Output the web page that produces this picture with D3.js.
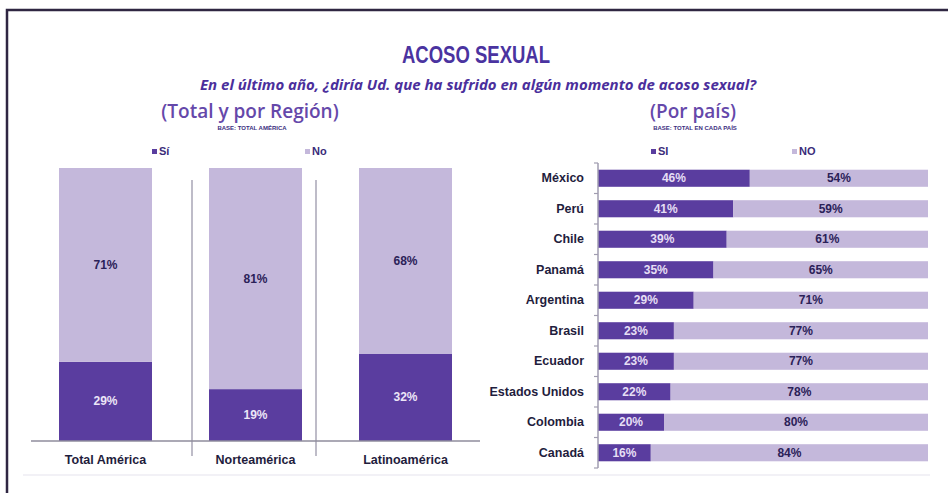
<!DOCTYPE html>
<html>
<head>
<meta charset="utf-8">
<script src="https://cdn.jsdelivr.net/npm/d3@7"></script>
<style>
  body { margin: 0; background: #ffffff; }
  svg { display: block; }
</style>
</head>
<body>
<div id="chart"></div>
<script>
// Data
const regions = ['Total América', 'Norteamérica', 'Latinoamérica'];
const regionSi = [29, 19, 32];
const regionNo = [71, 81, 68];

const countries = ['México', 'Perú', 'Chile', 'Panamá', 'Argentina', 'Brasil', 'Ecuador', 'Estados Unidos', 'Colombia', 'Canadá'];
const countrySi = [46, 41, 39, 35, 29, 23, 23, 22, 20, 16];
const countryNo = [54, 59, 61, 65, 71, 77, 77, 78, 80, 84];

const colorSi = '#5a3d9f';
const colorNo = '#c4b8db';
const narrow = '"Liberation Sans", Arial, sans-serif';

const W = 948, H = 493;
const svg = d3.select('#chart').append('svg')
  .attr('width', W)
  .attr('height', H);

svg.append('rect').attr('width', W).attr('height', H).attr('fill', '#fff');

// frame (top + left border)
svg.append('path')
  .attr('d', `M7,${H} L7,10 L${W},10`)
  .attr('fill', 'none')
  .attr('stroke', '#2f2642')
  .attr('stroke-width', 2.5);

// faint bottom plot border
svg.append('line')
  .attr('x1', 23).attr('x2', 930)
  .attr('y1', 475).attr('y2', 475)
  .attr('stroke', '#eeedf3')
  .attr('stroke-width', 1.5);

// Titles
svg.append('text')
  .attr('x', 476).attr('y', 63)
  .attr('text-anchor', 'middle')
  .attr('textLength', 148)
  .attr('lengthAdjust', 'spacingAndGlyphs')
  .style('font-family', narrow)
  .style('font-weight', 'bold')
  .style('font-size', '24px')
  .style('fill', '#4a33a0')
  .text('ACOSO SEXUAL');

svg.append('text')
  .attr('x', 478).attr('y', 90)
  .attr('text-anchor', 'middle')
  .style('font-family', '"Open Sans", sans-serif')
  .style('font-weight', 'bold')
  .style('font-style', 'italic')
  .style('font-size', '15px')
  .style('fill', '#4b2f9c')
  .text('En el último año, ¿diría Ud. que ha sufrido en algún momento de acoso sexual?');

function sectionHeader(cx, title, base) {
  svg.append('text')
    .attr('x', cx).attr('y', 118)
    .attr('text-anchor', 'middle')
    .style('font-family', '"Open Sans", sans-serif')
    .style('font-weight', '600')
    .style('font-size', '19px')
    .style('fill', '#6548aa')
    .text(title);
  svg.append('text')
    .attr('x', cx + 2).attr('y', 130)
    .attr('text-anchor', 'middle')
    .style('font-family', narrow)
    .style('font-weight', 'bold')
    .style('font-size', '6px')
    .style('fill', '#3b2d80')
    .text(base);
}
sectionHeader(250, '(Total y por Región)', 'BASE: TOTAL AMÉRICA');
sectionHeader(693, '(Por país)', 'BASE: TOTAL EN CADA PAÍS');

function legendItem(x, color, label) {
  svg.append('rect')
    .attr('x', x).attr('y', 149)
    .attr('width', 5).attr('height', 5)
    .attr('fill', color);
  svg.append('text')
    .attr('x', x + 7).attr('y', 155)
    .style('font-family', narrow)
    .style('font-weight', 'bold')
    .style('font-size', '11px')
    .style('fill', '#3a2c7a')
    .text(label);
}
legendItem(152, colorSi, 'Sí');
legendItem(305, colorNo, 'No');
legendItem(651, colorSi, 'SI');
legendItem(792, colorNo, 'NO');

// ---------- Left panel: stacked columns ----------
const xReg = d3.scaleBand()
  .domain(regions)
  .range([30.5, 480.5])
  .paddingInner(0.38)
  .paddingOuter(0.19);

const yReg = d3.scaleLinear()
  .domain([0, 100])
  .range([441, 168]);

const regData = regions.map((r, i) => ({ name: r, si: regionSi[i], no: regionNo[i] }));

// separators between regions
const sepOffsets = [40, 14];
sepOffsets.forEach((off, i) => {
  const sx = xReg(regions[i]) + xReg.bandwidth() + off;
  svg.append('line')
    .attr('x1', sx).attr('x2', sx)
    .attr('y1', 180).attr('y2', 456)
    .attr('stroke', '#a9a6b6')
    .attr('stroke-width', 1.5);
});

svg.selectAll('.reg-si')
  .data(regData)
  .enter()
  .append('rect')
  .attr('class', 'reg-si')
  .attr('x', d => xReg(d.name))
  .attr('width', xReg.bandwidth())
  .attr('y', d => yReg(d.si))
  .attr('height', d => yReg(0) - yReg(d.si))
  .attr('fill', colorSi);

svg.selectAll('.reg-no')
  .data(regData)
  .enter()
  .append('rect')
  .attr('class', 'reg-no')
  .attr('x', d => xReg(d.name))
  .attr('width', xReg.bandwidth())
  .attr('y', d => yReg(d.si + d.no))
  .attr('height', d => yReg(d.si) - yReg(d.si + d.no))
  .attr('fill', colorNo);

// value labels
svg.selectAll('.reg-si-lbl')
  .data(regData)
  .enter()
  .append('text')
  .attr('x', d => xReg(d.name) + xReg.bandwidth() / 2)
  .attr('y', d => yReg(d.si / 2) + 4)
  .attr('text-anchor', 'middle')
  .style('font-family', narrow)
  .style('font-weight', 'bold')
  .style('font-size', '12px')
  .style('fill', '#ece6f7')
  .text(d => d.si + '%');

svg.selectAll('.reg-no-lbl')
  .data(regData)
  .enter()
  .append('text')
  .attr('x', d => xReg(d.name) + xReg.bandwidth() / 2)
  .attr('y', d => yReg(d.si + d.no / 2) + 4)
  .attr('text-anchor', 'middle')
  .style('font-family', narrow)
  .style('font-weight', 'bold')
  .style('font-size', '12px')
  .style('fill', '#2b2158')
  .text(d => d.no + '%');

// baseline axis with category labels
const xAxisReg = svg.append('g')
  .attr('transform', `translate(0,${yReg(0)})`)
  .call(d3.axisBottom(xReg).tickSize(0).tickPadding(14));
xAxisReg.select('.domain')
  .attr('d', 'M31,0H480')
  .attr('stroke', '#8f8c9c')
  .attr('stroke-width', 1.5);
xAxisReg.selectAll('text')
  .style('font-family', narrow)
  .style('font-weight', 'bold')
  .style('font-size', '12.5px')
  .style('fill', '#1f1d3d');

// ---------- Right panel: horizontal stacked bars ----------
const xCty = d3.scaleLinear()
  .domain([0, 100])
  .range([598, 928]);

const yCty = d3.scaleBand()
  .domain(countries)
  .range([163, 468])
  .paddingInner(0.44)
  .paddingOuter(0.22);

const ctyData = countries.map((c, i) => ({ name: c, si: countrySi[i], no: countryNo[i] }));

svg.selectAll('.cty-si')
  .data(ctyData)
  .enter()
  .append('rect')
  .attr('x', xCty(0))
  .attr('y', d => yCty(d.name))
  .attr('width', d => xCty(d.si) - xCty(0))
  .attr('height', yCty.bandwidth())
  .attr('fill', colorSi);

svg.selectAll('.cty-no')
  .data(ctyData)
  .enter()
  .append('rect')
  .attr('x', d => xCty(d.si))
  .attr('y', d => yCty(d.name))
  .attr('width', d => xCty(d.si + d.no) - xCty(d.si))
  .attr('height', yCty.bandwidth())
  .attr('fill', colorNo);

svg.selectAll('.cty-si-lbl')
  .data(ctyData)
  .enter()
  .append('text')
  .attr('x', d => xCty(d.si / 2))
  .attr('y', d => yCty(d.name) + yCty.bandwidth() / 2 + 4)
  .attr('text-anchor', 'middle')
  .style('font-family', narrow)
  .style('font-weight', 'bold')
  .style('font-size', '12px')
  .style('fill', '#e6dff5')
  .text(d => d.si + '%');

svg.selectAll('.cty-no-lbl')
  .data(ctyData)
  .enter()
  .append('text')
  .attr('x', d => xCty(d.si + d.no / 2))
  .attr('y', d => yCty(d.name) + yCty.bandwidth() / 2 + 4)
  .attr('text-anchor', 'middle')
  .style('font-family', narrow)
  .style('font-weight', 'bold')
  .style('font-size', '12px')
  .style('fill', '#2b2158')
  .text(d => d.no + '%');

// y axis with boundary ticks
const yAxisCty = svg.append('g')
  .attr('transform', `translate(${xCty(0)},0)`)
  .call(d3.axisLeft(yCty).tickSize(0).tickPadding(14));
yAxisCty.select('.domain')
  .attr('d', 'M0,163V468')
  .attr('stroke', '#a09db0')
  .attr('stroke-width', 1.5);
yAxisCty.selectAll('text')
  .style('font-family', narrow)
  .style('font-weight', 'bold')
  .style('font-size', '12.5px')
  .style('fill', '#1f1d3d');

const step = yCty.step();
const boundaries = countries.map(c => yCty(c) - (step - yCty.bandwidth()) / 2);
boundaries.push(yCty(countries[countries.length - 1]) + yCty.bandwidth() + (step - yCty.bandwidth()) / 2);
yAxisCty.selectAll('.bnd')
  .data(boundaries)
  .enter()
  .append('line')
  .attr('x1', -4).attr('x2', 0)
  .attr('y1', d => d).attr('y2', d => d)
  .attr('stroke', '#a09db0')
  .attr('stroke-width', 1.2);
</script>
</body>
</html>
